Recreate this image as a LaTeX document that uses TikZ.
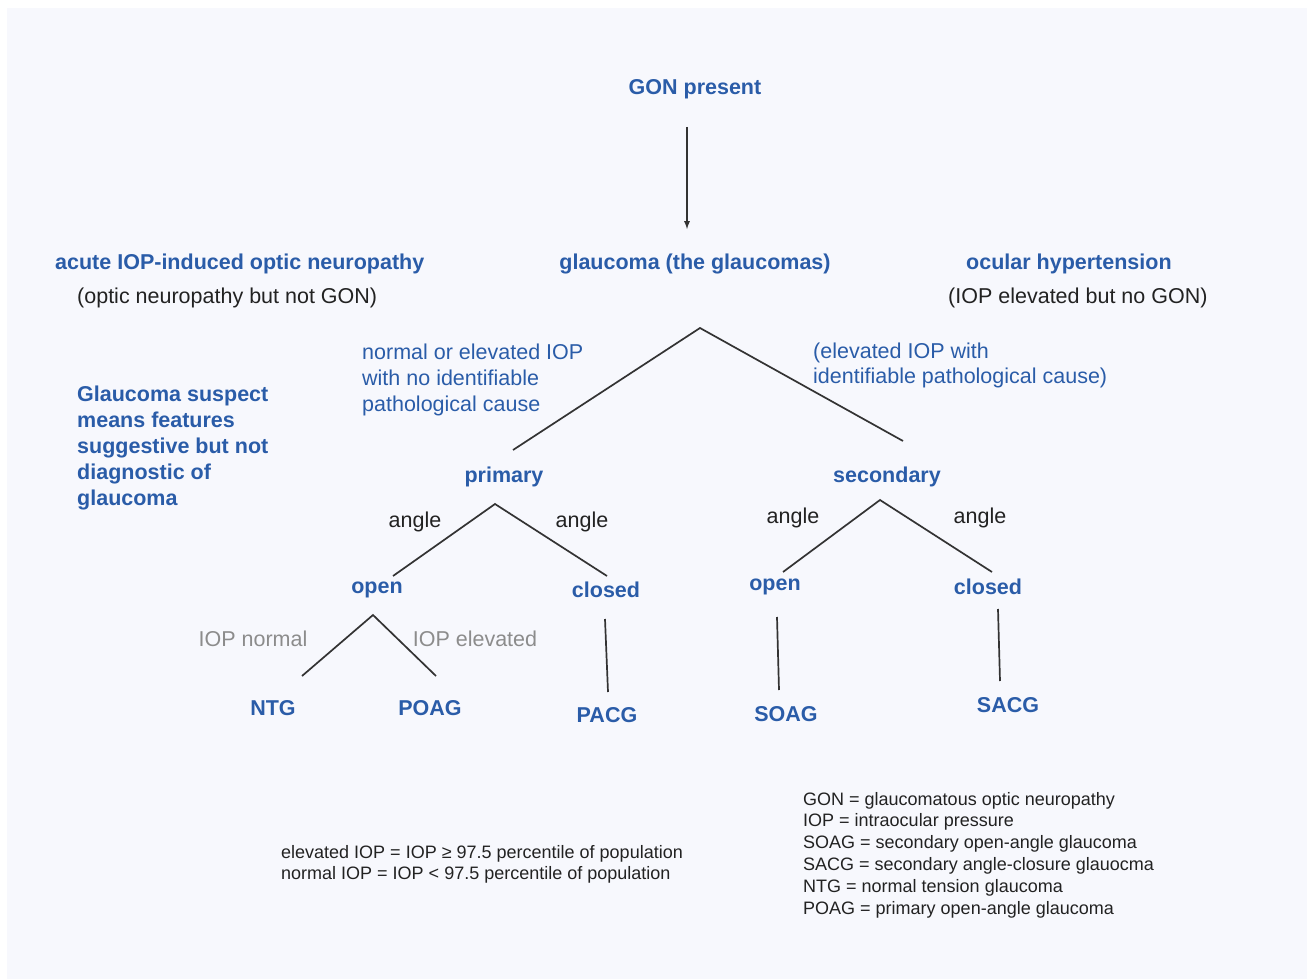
\documentclass[tikz,border=0pt]{standalone}
\usepackage{fontspec}
\setmainfont{Liberation Sans}
\definecolor{gblue}{HTML}{2A5CA8}
\definecolor{ggray}{HTML}{8C8C8C}
\definecolor{gpanel}{HTML}{F7F8FD}
\definecolor{gtext}{HTML}{222222}
\definecolor{gline}{HTML}{333333}

\begin{document}
\begin{tikzpicture}[x=1pt,y=-1pt,
	term/.style={font=\fontsize{21.5}{25.5}\selectfont\bfseries, text=gblue, inner sep=0pt, yshift=-2.5pt},
	note/.style={font=\fontsize{21.5}{25.5}\selectfont, text=gtext, inner sep=0pt, yshift=-2.5pt},
	cause/.style={font=\fontsize{21.5}{25.8}\selectfont, text=gblue, inner sep=0pt, align=left, anchor=west, yshift=-2.5pt},
	iop/.style={font=\fontsize{21.5}{25.5}\selectfont, text=ggray, inner sep=0pt, yshift=-2.5pt},
	legend/.style={font=\fontsize{18}{21.8}\selectfont, text=gtext, inner sep=0pt, align=left, anchor=west, yshift=-2.5pt},
	branch/.style={line width=1.7pt, draw=gline}]
	\useasboundingbox (0,0) rectangle (1307,979);
	\fill[white] (0,0) rectangle (1307,979);
	\fill[gpanel] (7,8) rectangle (1307,979);

	\coordinate (a1) at (687,127);
	\coordinate (a2) at (687,229);
	\coordinate (top) at (700,328);
	\coordinate (pL) at (513,450);
	\coordinate (sR) at (903,441);
	\coordinate (pA) at (495,504);
	\coordinate (poL) at (393,576);
	\coordinate (pcR) at (607,576);
	\coordinate (oA) at (373,615);
	\coordinate (ntgE) at (302,676);
	\coordinate (poagE) at (436,676);
	\coordinate (pc1) at (605,619);
	\coordinate (pc2) at (608,692);
	\coordinate (sA) at (880,500);
	\coordinate (soL) at (783,572);
	\coordinate (scR) at (992,572);
	\coordinate (so1) at (777,617);
	\coordinate (so2) at (779,690);
	\coordinate (sc1) at (998,609);
	\coordinate (sc2) at (1000,681);

	\draw[branch,-latex] (a1)--(a2);
	\draw[branch] (pL)--(top)--(sR);
	\draw[branch] (poL)--(pA)--(pcR);
	\draw[branch] (ntgE)--(oA)--(poagE);
	\draw[branch] (pc1)--(pc2);
	\draw[branch] (soL)--(sA)--(scR);
	\draw[branch] (so1)--(so2);
	\draw[branch] (sc1)--(sc2);

	\node[term] (gon) at (695,87) {GON present};
	\node[term] (glauc) at (695,261) {glaucoma (the glaucomas)};
	\node[term,anchor=west] (acute) at (55,261) {acute IOP-induced optic neuropathy};
	\node[note,anchor=west] (acuteN) at (77,295) {(optic neuropathy but not GON)};
	\node[term,anchor=west] (ocular) at (966,261) {ocular hypertension};
	\node[note,anchor=west] (ocularN) at (948,295) {(IOP elevated but no GON)};

	\node[cause] (primC) at (362,377.5) {normal or elevated IOP\\with no identifiable\\pathological cause};
	\node[cause] (secC) at (813,363) {(elevated IOP with\\identifiable pathological cause)};
	\node[term,align=left,anchor=west,font=\fontsize{21.5}{25.8}\selectfont\bfseries] (suspect) at (77,445.5)
		{Glaucoma suspect\\means features\\suggestive but not\\diagnostic of\\glaucoma};

	\node[term] (prim) at (504,474) {primary};
	\node[term] (sec) at (887,474) {secondary};
	\node[note] (angPL) at (415,519) {angle};
	\node[note] (angPR) at (582,519) {angle};
	\node[note] (angSL) at (793,515) {angle};
	\node[note] (angSR) at (980,515) {angle};

	\node[term] (popen) at (377,587) {open};
	\node[term] (pclosed) at (606,587) {closed};
	\node[term] (sopen) at (775,584) {open};
	\node[term] (sclosed) at (988,584) {closed};

	\node[iop] (iopN) at (253,636) {IOP normal};
	\node[iop] (iopE) at (475,636) {IOP elevated};

	\node[term] (ntg) at (273,706) {NTG};
	\node[term] (poag) at (430,706) {POAG};
	\node[term] (pacg) at (607,713) {PACG};
	\node[term] (soag) at (786,712) {SOAG};
	\node[term] (sacg) at (1008,703) {SACG};

	\node[legend,font=\fontsize{18}{21}\selectfont] (defIOP) at (281,861.5)
		{elevated IOP = IOP \symbol{"2265} 97.5 percentile of population\\normal IOP = IOP < 97.5 percentile of population};
	\node[legend] (abbr) at (803,852.5)
		{GON = glaucomatous optic neuropathy\\IOP = intraocular pressure\\SOAG = secondary open-angle glaucoma\\SACG = secondary angle-closure glauocma\\NTG = normal tension glaucoma\\POAG = primary open-angle glaucoma};
\end{tikzpicture}
\end{document}
